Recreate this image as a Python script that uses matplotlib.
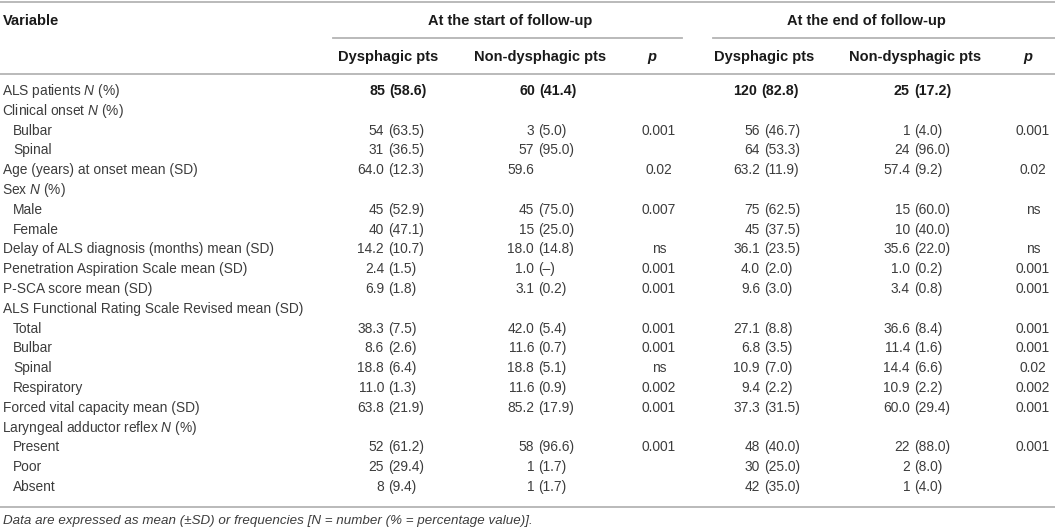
import matplotlib
matplotlib.use('Agg')
from matplotlib import pyplot as plt

plt.rcParams['font.family'] = 'Liberation Sans'
plt.rcParams['mathtext.fontset'] = 'custom'
plt.rcParams['mathtext.rm'] = 'Liberation Sans'
plt.rcParams['mathtext.it'] = 'Liberation Sans:italic'

# table content
variables = [
    'ALS patients $N$ (%)', 'Clinical onset $N$ (%)', 'Bulbar', 'Spinal',
    'Age (years) at onset mean (SD)', 'Sex $N$ (%)', 'Male', 'Female',
    'Delay of ALS diagnosis (months) mean (SD)',
    'Penetration Aspiration Scale mean (SD)', 'P-SCA score mean (SD)',
    'ALS Functional Rating Scale Revised mean (SD)', 'Total', 'Bulbar',
    'Spinal', 'Respiratory', 'Forced vital capacity mean (SD)',
    'Laryngeal adductor reflex $N$ (%)', 'Present', 'Poor', 'Absent',
]
indented = [2, 3, 6, 7, 12, 13, 14, 15, 18, 19, 20]

start_dys = ['85 (58.6)', '', '54 (63.5)', '31 (36.5)', '64.0 (12.3)', '',
             '45 (52.9)', '40 (47.1)', '14.2 (10.7)', '2.4 (1.5)', '6.9 (1.8)',
             '', '38.3 (7.5)', '8.6 (2.6)', '18.8 (6.4)', '11.0 (1.3)',
             '63.8 (21.9)', '', '52 (61.2)', '25 (29.4)', '8 (9.4)']
start_non = ['60 (41.4)', '', '3 (5.0)', '57 (95.0)', '59.6', '',
             '45 (75.0)', '15 (25.0)', '18.0 (14.8)', '1.0 (\u2013)', '3.1 (0.2)',
             '', '42.0 (5.4)', '11.6 (0.7)', '18.8 (5.1)', '11.6 (0.9)',
             '85.2 (17.9)', '', '58 (96.6)', '1 (1.7)', '1 (1.7)']
start_p = ['', '', '0.001', '', '0.02', '', '0.007', '', 'ns', '0.001', '0.001',
           '', '0.001', '0.001', 'ns', '0.002', '0.001', '', '0.001', '', '']
end_dys = ['120 (82.8)', '', '56 (46.7)', '64 (53.3)', '63.2 (11.9)', '',
           '75 (62.5)', '45 (37.5)', '36.1 (23.5)', '4.0 (2.0)', '9.6 (3.0)',
           '', '27.1 (8.8)', '6.8 (3.5)', '10.9 (7.0)', '9.4 (2.2)',
           '37.3 (31.5)', '', '48 (40.0)', '30 (25.0)', '42 (35.0)']
end_non = ['25 (17.2)', '', '1 (4.0)', '24 (96.0)', '57.4 (9.2)', '',
           '15 (60.0)', '10 (40.0)', '35.6 (22.0)', '1.0 (0.2)', '3.4 (0.8)',
           '', '36.6 (8.4)', '11.4 (1.6)', '14.4 (6.6)', '10.9 (2.2)',
           '60.0 (29.4)', '', '22 (88.0)', '2 (8.0)', '1 (4.0)']
end_p = ['', '', '0.001', '', '0.02', '', 'ns', '', 'ns', '0.001', '0.001',
         '', '0.001', '0.001', '0.02', '0.002', '0.001', '', '0.001', '', '']

group_titles = ['At the start of follow-up', 'At the end of follow-up']
sub_titles = ['Dysphagic pts', 'Non-dysphagic pts', 'p']
footnote = ('Data are expressed as mean (\u00b1SD) or frequencies '
            '[N = number (% = percentage value)].')

W, H = 1055, 529
fig = plt.figure(figsize=(W / 100, H / 100), dpi=100)
ax = fig.add_axes([0, 0, 1, 1])
ax.set_xlim(0, W)
ax.set_ylim(H, 0)
ax.axis('off')

txt = '#3c3c3c'
hdr = '#1a1a1a'
line_c = '#b4b4b4'
fs = 9.9
fs_b = 10.5

# rules
ax.plot([0, W], [2, 2], color=line_c, lw=1.3)
ax.plot([333, 682], [38, 38], color=line_c, lw=1.3)
ax.plot([713, W], [38, 38], color=line_c, lw=1.3)
ax.plot([0, W], [74, 74], color=line_c, lw=1.3)
ax.plot([0, W], [507, 507], color=line_c, lw=1.3)

# headers
ax.text(3, 21, 'Variable', fontsize=fs_b, weight='bold', color=hdr, va='center')
ax.text(510, 21, group_titles[0], fontsize=fs_b, weight='bold', color=hdr,
        va='center', ha='center')
ax.text(866, 21, group_titles[1], fontsize=fs_b, weight='bold', color=hdr,
        va='center', ha='center')
for xs in ([388, 540, 652], [764, 915, 1028]):
    for x, s in zip(xs, sub_titles):
        ax.text(x, 57, s, fontsize=fs_b, weight='bold', color=hdr, va='center',
                ha='center', style='italic' if s == 'p' else 'normal')


def paired(x, y, s, bold=False):
    # numbers aligned on the opening parenthesis
    w = 'bold' if bold else 'normal'
    size = 10.3 if bold else fs
    col = hdr if bold else txt
    if ' (' in s:
        a, b = s.split(' (', 1)
        ax.text(x - 4, y, a, fontsize=size, color=col,
                weight=w, ha='right', va='center')
        ax.text(x, y, '(' + b, fontsize=size, color=col,
                weight=w, ha='left', va='center')
    elif s:
        ax.text(x - 4, y, s, fontsize=size, color=col, weight=w,
                ha='right', va='center')


y0, dy = 91, 19.8
for i, lab in enumerate(variables):
    y = y0 + i * dy
    x = 13 if i in indented else 3
    if '$' in lab:
        x -= 1
    ax.text(x, y, lab, fontsize=fs, color=txt, va='center')
    bold = i == 0
    paired(389 if bold else 388, y, start_dys[i], bold)
    paired(539 if bold else 538, y, start_non[i], bold)
    paired(761 if bold else 764, y, end_dys[i], bold)
    paired(914, y, end_non[i], bold)
    ax.text(659, y, start_p[i], fontsize=fs, color=txt, ha='center', va='center')
    ax.text(1033, y, end_p[i], fontsize=fs, color=txt, ha='center', va='center')

ax.text(3, 521, footnote, fontsize=9.6, color=txt, style='italic', va='center')

fig.savefig('out.png', dpi=100)
